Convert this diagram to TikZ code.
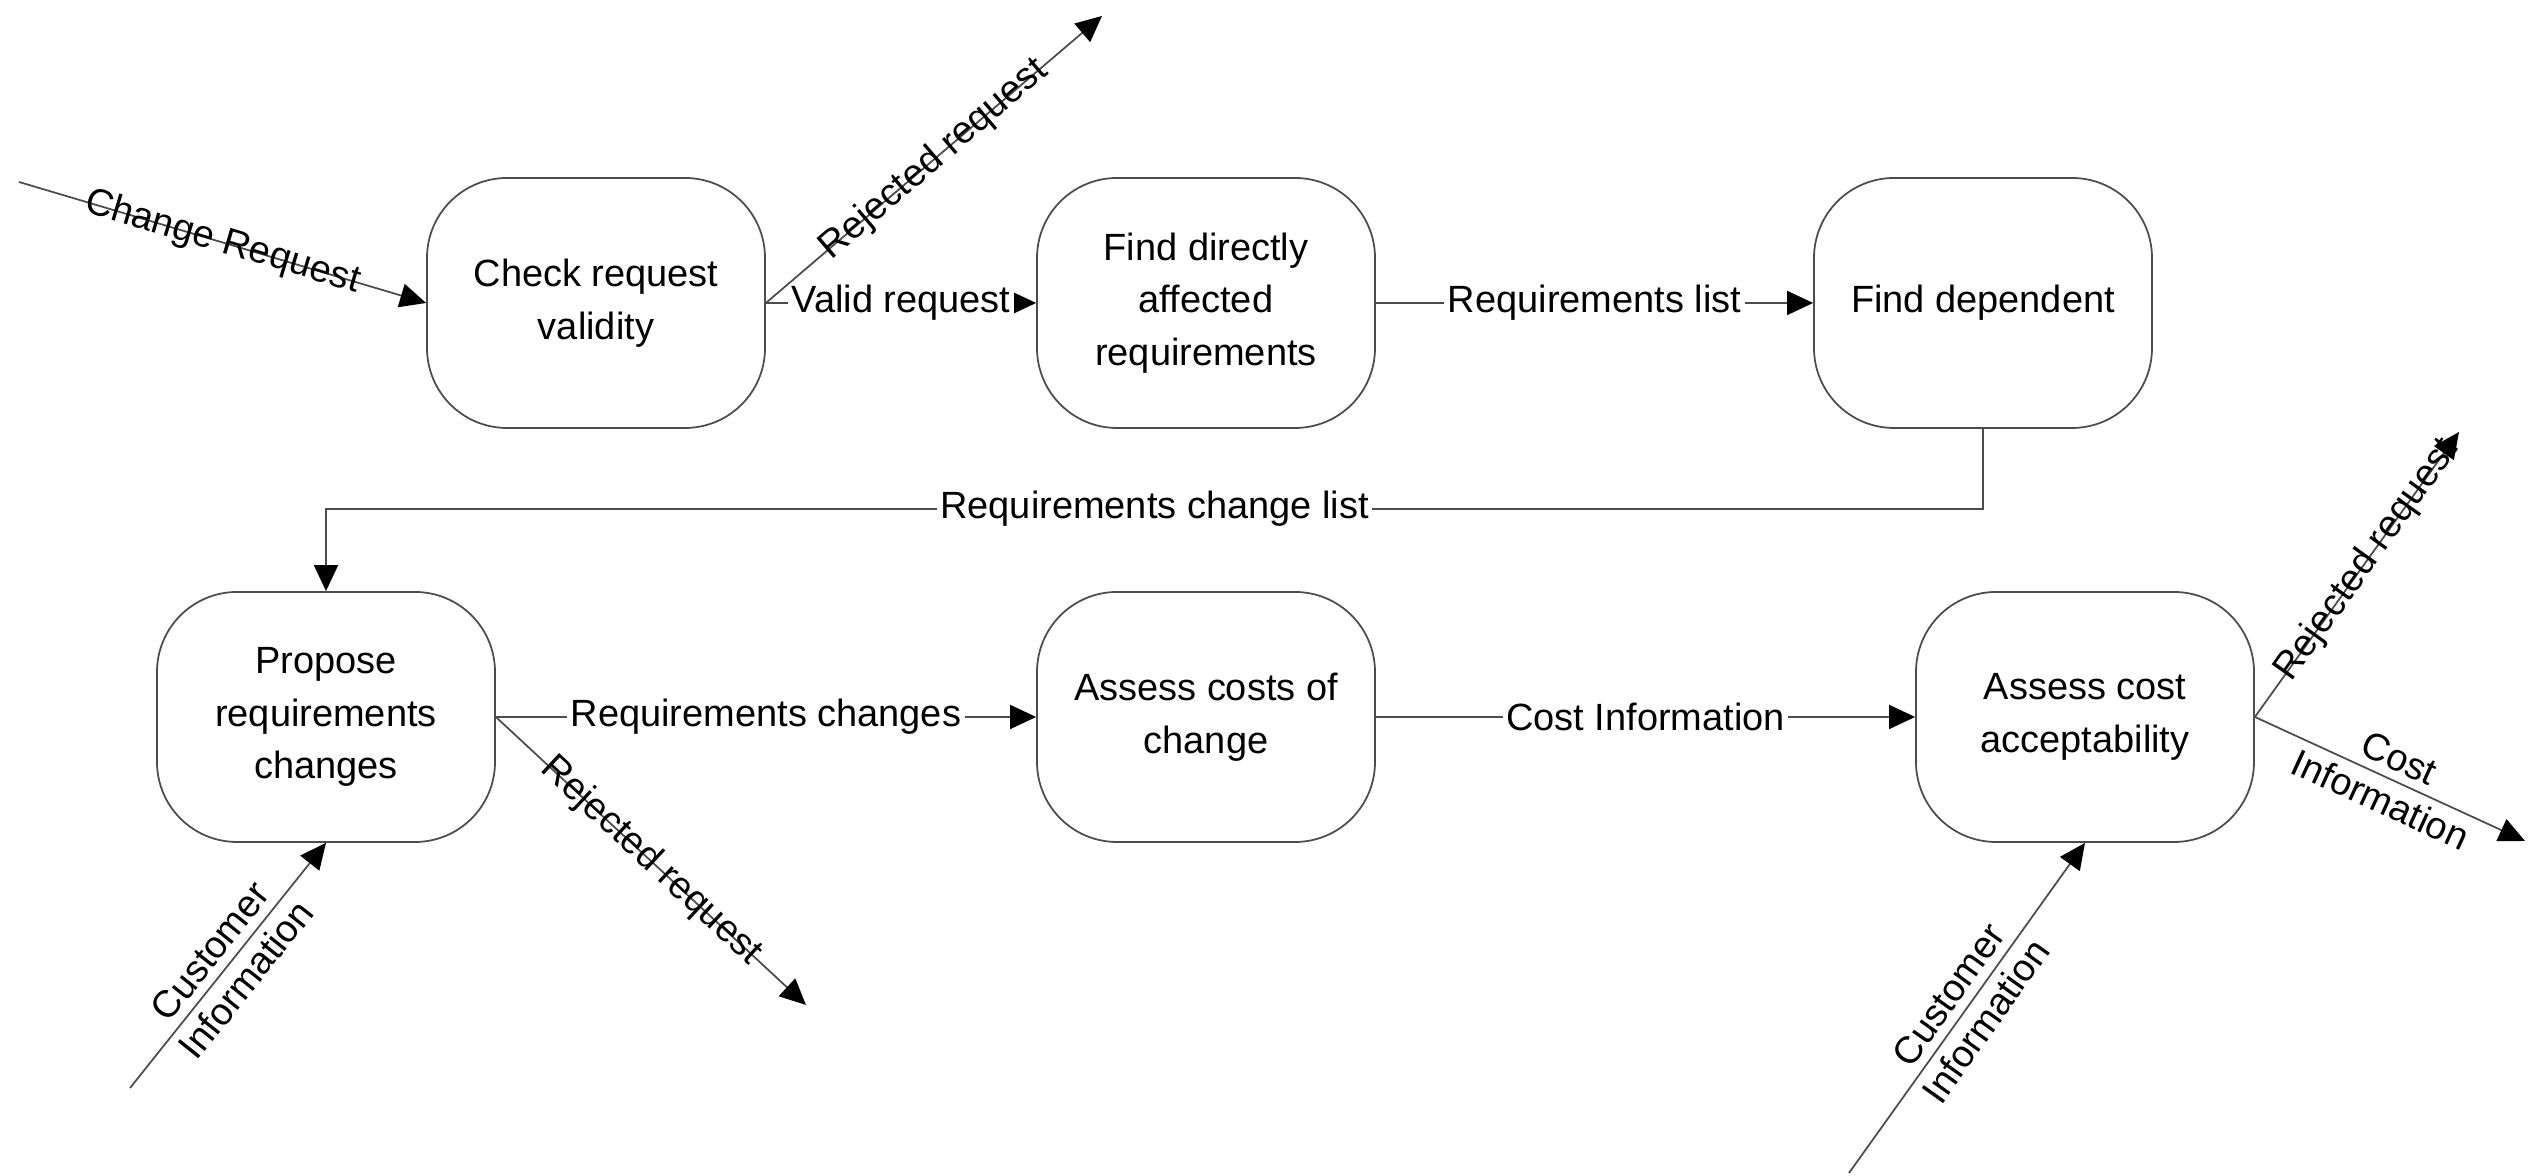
\documentclass[tikz,border=0pt]{standalone}
\usepackage{fontspec}
\setmainfont{Liberation Sans}
\usetikzlibrary{arrows.meta}

\begin{document}
\begin{tikzpicture}[
        proc/.style={draw=black!70, line width=0.5pt, rounded corners=0.8cm, minimum width=3.38cm, minimum height=2.5cm, align=center, font=\fontsize{10.8}{15}\selectfont},
        flow/.style={draw=black!70, line width=0.5pt, -{Triangle[length=2.6mm,width=2.4mm,color=black]}},
        lbl/.style={fill=white, inner sep=1pt, text=black, font=\fontsize{10.8}{13}\selectfont},
        slbl/.style={sloped, inner sep=1pt, align=center, text=black, font=\fontsize{10.8}{13}\selectfont}]
        \useasboundingbox (0,0) rectangle (25.42,11.76);
        % process boxes
        \node[proc] (chk)  at (5.96,8.73)  {Check request\\validity};
        \node[proc] (fnd)  at (12.06,8.73) {Find directly\\affected\\requirements};
        \node[proc] (dep)  at (19.83,8.73) {Find dependent};
        \node[proc] (prop) at (3.26,4.59)  {Propose\\requirements\\changes};
        \node[proc] (cost) at (12.06,4.59) {Assess costs of\\change};
        \node[proc] (acc)  at (20.85,4.59) {Assess cost\\acceptability};
        % free ends of the outside flows
        \coordinate (chgin)  at (0.19,9.94);
        \coordinate (rej1)   at (11.02,11.60);
        \coordinate (rej2)   at (8.06,1.71);
        \coordinate (cust1)  at (1.30,0.88);
        \coordinate (cust2)  at (18.49,0.03);
        \coordinate (rej3)   at (24.59,7.44);
        \coordinate (costout) at (25.25,3.35);
        % flows between boxes
        \draw[flow] (chk.east) -- node[lbl] {Valid request} (fnd.west);
        \draw[flow] (fnd.east) -- node[lbl] {Requirements list} (dep.west);
        \draw[flow] (dep.south) -- ++(0,-0.8) coordinate (bend) -- node[lbl] {Requirements change list} (bend -| prop.north) -- (prop.north);
        \draw[flow] (prop.east) -- node[lbl] {Requirements changes} (cost.west);
        \draw[flow] (cost.east) -- node[lbl] {Cost Information} (acc.west);
        % flows in and out
        \draw[flow] (chgin) -- node[slbl] {Change Request} (chk.west);
        \draw[flow] (chk.east) -- node[slbl] {Rejected request} (rej1);
        \draw[flow] (prop.east) -- node[slbl] {Rejected request} (rej2);
        \draw[flow] (cust1) -- node[slbl] {Customer\\Information} (prop.south);
        \draw[flow] (cust2) -- node[slbl] {Customer\\Information} (acc.south);
        \draw[flow] (acc.east) -- node[slbl, pos=0.55] {Rejected request} (rej3);
        \draw[flow] (acc.east) -- node[slbl] {Cost\\Information} (costout);
\end{tikzpicture}
\end{document}
